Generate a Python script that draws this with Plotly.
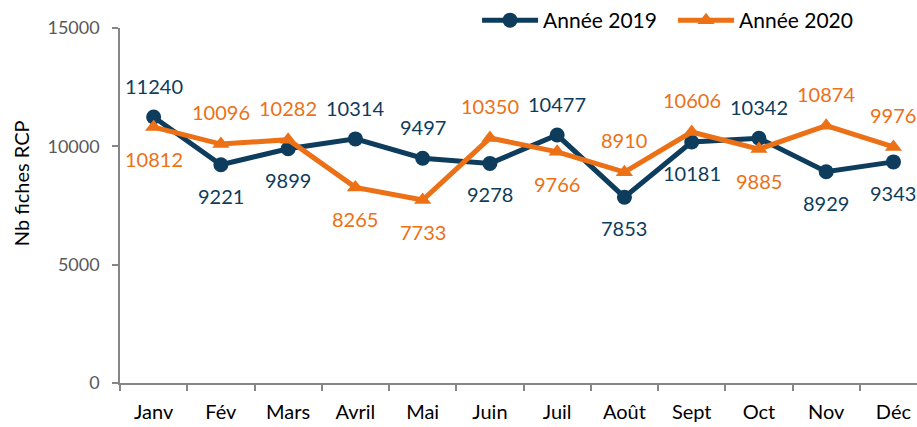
import plotly.graph_objects as go

months = ["Janv", "Fév", "Mars", "Avril", "Mai", "Juin", "Juil", "Août", "Sept", "Oct", "Nov", "Déc"]
values_2019 = [11240, 9221, 9899, 10314, 9497, 9278, 10477, 7853, 10181, 10342, 8929, 9343]
values_2020 = [10812, 10096, 10282, 8265, 7733, 10350, 9766, 8910, 10606, 9885, 10874, 9976]
# label placement: 1 = above point, -1 = below point
pos_2019 = [1, -1, -1, 1, 1, -1, 1, -1, -1, 1, -1, -1]
pos_2020 = [-1, 1, 1, -1, -1, 1, -1, 1, 1, -1, 1, 1]
y_ticks = [0, 5000, 10000, 15000]
y_title = "Nb fiches RCP"

C2019 = "#0E3C5C"
C2020 = "#EC7015"
FONT = "Lato, Open Sans, sans-serif"

fig = go.Figure()
fig.add_trace(go.Scatter(
    x=months, y=values_2019, mode="lines+markers", name="Année 2019",
    line=dict(color=C2019, width=5),
    marker=dict(symbol="circle", size=15, color=C2019),
))
fig.add_trace(go.Scatter(
    x=months, y=values_2020, mode="lines+markers", name="Année 2020",
    line=dict(color=C2020, width=5),
    marker=dict(symbol="triangle-up", size=15, color=C2020),
))

annotations = []
for m, v, p in zip(months, values_2019, pos_2019):
    annotations.append(dict(x=m, y=v, text=str(v), showarrow=False, yshift=31 * p,
                            font=dict(color=C2019, size=20, family=FONT)))
for m, v, p in zip(months, values_2020, pos_2020):
    annotations.append(dict(x=m, y=v, text=str(v), showarrow=False, yshift=32 * p,
                            font=dict(color=C2020, size=20, family=FONT)))
annotations.append(dict(xref="paper", yref="paper", x=0, y=0.563, xshift=-99,
                        xanchor="center", yanchor="middle", textangle=-90,
                        text=y_title, showarrow=False,
                        font=dict(size=20, color="black", family=FONT)))

fig.update_layout(
    width=917, height=427,
    margin=dict(l=120, r=0, t=28, b=44),
    paper_bgcolor="white", plot_bgcolor="white",
    font=dict(family=FONT, size=18, color="black"),
    annotations=annotations,
    showlegend=True,
    legend=dict(orientation="h", x=0.448, xanchor="left", y=1.0225, yanchor="middle",
                font=dict(size=21, color="black", family=FONT),
                bgcolor="rgba(0,0,0,0)", tracegroupgap=0, itemwidth=56,
                entrywidth=125, entrywidthmode="pixels"),
    xaxis=dict(
        type="category", range=[-0.5, 11.35],
        showline=True, linecolor="#868686", linewidth=1.5,
        ticks="outside", tickson="boundaries", ticklen=6, tickcolor="#868686", tickwidth=1.5,
        showgrid=False, zeroline=False, ticklabelstandoff=10,
        tickfont=dict(size=20, color="black", family=FONT),
    ),
    yaxis=dict(
        range=[0, 15000], tickvals=y_ticks, ticktext=[str(t) for t in y_ticks],
        showline=True, linecolor="#868686", linewidth=1.5,
        ticks="outside", ticklen=6, tickcolor="#868686", tickwidth=1.5,
        showgrid=False, zeroline=False, ticklabelstandoff=9,
        tickfont=dict(size=18, color="#595959", family=FONT),
    ),
)

fig.write_html("out.html", config={"displayModeBar": False},
               post_script="document.body.style.margin='0px';")
